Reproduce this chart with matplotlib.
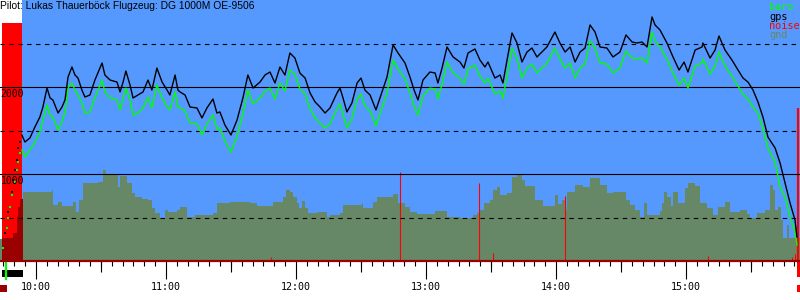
#!/usr/bin/env python3

import numpy as np
import matplotlib.pyplot as plt
import matplotlib.transforms as mtransforms
from matplotlib.patches import Rectangle

# =========================
# STYLE
# =========================
BLUE = "#5599ff"
GND = "#668866"
BARO = "#00ff00"
NOISE = "#ff0000"
DARKRED = "#990000"
MONO = "DejaVu Sans Mono"

plt.rcParams.update({
    "font.family": "Liberation Sans",
    "figure.dpi": 100,
})

# =========================
# DATA (minutes after 10:00, metres)
# =========================
title = "Pilot: Lukas Thauerböck Flugzeug: DG 1000M OE-9506"

t = [-6.5, -5.1, -2.8, -0.5, 1.8, 3.2, 5.1, 6.5, 7.8, 10.2, 12.0, 13.4, 14.8, 16.6,
     18.0, 19.4, 21.2, 22.6, 24.9, 27.2, 30.5, 31.8, 34.2, 37.4, 38.8, 40.2, 41.5,
     43.4, 44.8, 47.1, 49.4, 51.7, 53.5, 55.8, 58.2, 60.5, 61.8, 64.2, 65.5, 66.5,
     68.8, 71.1, 74.3, 76.6, 78.9, 81.7, 83.5, 84.9, 87.2, 90.0, 92.8, 95.5, 97.8,
     100.2, 103.4, 105.7, 108.0, 110.3, 112.6, 114.9, 117.2, 119.5, 121.8, 124.2,
     126.5, 128.8, 131.1, 133.4, 135.7, 138.9, 140.3, 141.7, 143.5, 145.8, 148.2,
     150.0, 151.8, 154.2, 156.9, 159.7, 162.0, 164.8, 167.1, 170.3, 172.6, 174.5,
     176.3, 178.6, 181.8, 184.2, 185.5, 187.4, 189.7, 192.5, 195.7, 197.5, 199.4,
     202.6, 204.9, 207.2, 208.6, 211.8, 214.2, 215.5, 217.4, 219.7, 222.0, 224.3,
     226.6, 228.9, 231.2, 233.5, 235.8, 239.5, 241.8, 244.2, 246.5, 248.8, 251.1,
     253.4, 255.7, 258.0, 260.3, 263.5, 266.3, 269.5, 272.3, 275.1, 277.4, 279.7,
     282.0, 284.3, 285.7, 288.0, 291.2, 294.0, 296.8, 299.1, 300.9, 304.2, 307.4,
     307.8, 311.1, 313.4, 315.2, 318.0, 321.2, 324.0, 326.3, 328.6, 330.9, 333.2,
     335.5, 337.8, 341.1, 343.4, 345.7, 348.0, 350.3, 351.2]

gps = [1448, 1368, 1414, 1540, 1655, 1770, 1989, 1874, 1851, 1701, 1770, 1851, 2115, 2230,
       2138, 2103, 1965, 1885, 1908, 2080, 2276, 2138, 2080, 2057, 1943, 2057, 2184,
       2023, 1874, 1908, 1943, 2080, 1965, 2218, 2057, 1965, 1908, 2138, 1965, 1943,
       1908, 1770, 1759, 1644, 1759, 1862, 1701, 1713, 1563, 1448, 1621, 1874, 2138,
       1988, 2057, 2138, 2172, 2046, 2230, 2138, 2391, 2333, 2161, 2103,
       1931, 1828, 1770, 1701, 1759, 1931, 1988, 1874, 1713, 1816, 2046,
       2103, 1965, 1908, 1736, 1943, 2115, 2483, 2391, 2276, 2115, 1965,
       1851, 2080, 2172, 2161, 2046, 2218, 2460, 2345, 2287, 2218, 2391,
       2437, 2310, 2230, 2287, 2103, 2138, 2046, 2310, 2621, 2506, 2287,
       2402, 2448, 2345, 2402, 2460, 2632, 2506, 2402, 2460, 2287, 2402,
       2448, 2713, 2632, 2460, 2448, 2345, 2402, 2598, 2517, 2506, 2517,
       2460, 2805, 2713, 2655, 2506, 2345, 2195, 2287, 2172, 2425, 2460,
       2506, 2333, 2425, 2586, 2425, 2310, 2195, 2103, 2057, 1965, 1828,
       1655, 1425, 1299, 1126, 897, 667, 471, 276]

baro = [1276, 1195, 1276, 1368, 1483, 1621, 1793, 1678, 1655, 1506, 1598, 1713, 1988, 2046,
        1965, 1908, 1816, 1701, 1713, 1874, 2080, 1943, 1874, 1851, 1736, 1874, 1988,
        1851, 1678, 1701, 1759, 1885, 1759, 2023, 1874, 1770, 1736, 1943, 1770, 1759,
        1725, 1586, 1575, 1448, 1575, 1678, 1517, 1529, 1379, 1253, 1437, 1690, 1965,
        1805, 1874, 1954, 1988, 1862, 2046, 1954, 2195, 2149, 1977, 1920,
        1747, 1644, 1586, 1529, 1575, 1747, 1805, 1690, 1529, 1632, 1862,
        1920, 1782, 1725, 1552, 1759, 1931, 2310, 2207, 2092, 1931, 1782,
        1678, 1897, 1988, 1977, 1862, 2034, 2287, 2161, 2103, 2034, 2207,
        2253, 2126, 2046, 2103, 1920, 1954, 1874, 2126, 2448, 2322, 2103,
        2218, 2264, 2161, 2218, 2276, 2448, 2322, 2218, 2276, 2103, 2218,
        2264, 2529, 2448, 2276, 2264, 2161, 2218, 2414, 2333, 2322, 2333,
        2276, 2632, 2529, 2460, 2322, 2161, 2023, 2103, 1988, 2241, 2276,
        2322, 2149, 2241, 2402, 2241, 2126, 2011, 1920, 1862, 1770, 1700,
        1520, 1300, 1138, 851, 736, 506, 333, 184]

# climb under engine: only a few fixes, drawn as dots
climb_t_baro = [-15.2, -13.4, -12.9, -12.0, -11.1, -9.7, -8.8, -8.3, -7.4]
climb_baro = [149, 379, 494, 621, 759, 908, 1046, 1138, 1241]
climb_t_gps = [-14.3, -12.9, -11.1, -10.6, -9.7, -8.8, -8.3, -7.4]
climb_gps = [322, 563, 793, 931, 1046, 1161, 1299, 1368]

gnd_t = [-16.6, -5.9, 7.2, 8.0, 10.3, 11.9, 16.9, 18.5, 20.0, 21.5, 28.8, 31.1, 32.3,
         38.0, 38.8, 42.1, 44.2, 45.7, 48.8, 51.8, 53.4, 54.9, 57.2, 59.5, 61.1, 64.9,
         66.5, 69.5, 73.4, 81.8, 83.4, 89.5, 98.8, 101.9, 109.5, 114.1, 115.4, 117.2,
         118.8, 120.3, 121.5, 122.9, 124.2, 125.7, 129.5, 134.2, 135.7, 140.3, 141.8,
         150.3, 151.1, 155.7, 157.2, 164.9, 167.2, 170.3, 172.6, 175.7, 184.2, 189.6,
         195.7, 201.8, 203.4, 204.9, 206.8, 209.5, 210.8, 212.6, 214.2, 217.2, 219.5,
         221.9, 224.2, 225.7, 229.5, 230.3, 232.6, 234.1, 238.8, 239.5, 241.1, 242.6,
         244.2, 244.9, 248.8, 252.6, 255.7, 258.8, 260.3, 263.4, 266.4, 271.1, 272.3,
         274.2, 276.5, 278.8, 280.6, 281.8, 286.5, 288.0, 288.8, 289.8, 291.4, 292.9,
         294.1, 296.4, 299.5, 301.1, 304.2, 306.5, 309.6, 312.6, 314.9, 318.0, 320.3,
         324.9, 328.0, 329.5, 332.6, 336.5, 338.8, 340.3, 341.1, 342.6, 343.7, 344.6,
         346.5, 347.5, 350.3, 351.4, 352.6]

gnd = [253, 793, 816, 644, 678, 632, 678, 563, 701, 897, 908, 1046, 989,
       851, 977, 897, 782, 736, 713, 701, 609, 552, 494, 586, 563, 586,
       621, 506, 529, 552, 667, 678, 667, 632, 678, 736, 816, 793,
       736, 667, 609, 690, 609, 552, 563, 506, 529, 552, 644,
       667, 609, 678, 736, 770, 667, 621, 563, 540, 575, 506,
       494, 529, 552, 586, 667, 701, 816, 851, 759, 782, 966,
       989, 931, 862, 862, 701, 701, 632, 632, 759, 655, 701,
       586, 793, 874, 851, 954, 954, 874, 782, 793, 793, 701,
       644, 586, 506, 667, 529, 529, 575, 667, 793, 736, 632,
       793, 667, 839, 897, 862, 667, 609, 529, 621, 678, 563,
       586, 540, 494, 552, 586, 874, 816, 586, 621, 471, 264,
       414, 264, 391, 264, 264]

# engine run (noise) at the start
engine_t = [-15.7, -6.5]
engine_noise = 2736
engine_gnd_t = [-15.7, -10.6, -8.8, -8.3, -7.4, -6.0]
engine_gnd = [264, 322, 506, 621, 713, 713]

# noise spikes during the flight
noise_t = [108.5, 168.0, 204.5, 210.9, 244.2, 310.2, 348.9, 350.3, 351.7]
noise = [46, 1023, 897, 92, 747, 57, 46, 80, 1759]

hours = ["10:00", "11:00", "12:00", "13:00", "14:00", "15:00"]
hour_min = [0, 60, 120, 180, 240, 300]

legend = [("baro", BARO), ("gps", "black"), ("noise", NOISE), ("gnd", GND)]

# =========================
# PLOT
# =========================
fig = plt.figure(figsize=(8, 3), facecolor="white")
ax = fig.add_axes([0, 39 / 300, 1, 261 / 300])
ax.set_facecolor("white")
ax.set_xlim(-16.6, 352.6)
ax.set_ylim(0, 3000)
for s in ax.spines.values():
    s.set_visible(False)

# background + engine noise
ax.axvspan(engine_t[1], 352.6, color=BLUE, lw=0, zorder=0)
ax.fill_between(engine_t, 0, engine_noise, color=NOISE, lw=0, zorder=1)

# ground
ax.fill_between(gnd_t, 0, gnd, step="post", color=GND, lw=0, zorder=2)
ax.fill_between(engine_gnd_t, 0, engine_gnd, step="post", color=DARKRED, lw=0, zorder=2.5)

# noise spikes
ax.vlines(noise_t[:-1], 0, noise[:-1], color=NOISE, lw=0.8, zorder=3)
ax.vlines(noise_t[-1:], 0, noise[-1:], color=NOISE, lw=1.6, zorder=3)

# altitude grid
for v in [1000, 2000]:
    ax.axhline(v, color="black", lw=0.8, zorder=4)
for v in [500, 1500, 2500]:
    ax.axhline(v, color="black", lw=0.8, ls=(0, (4, 4)), zorder=4)

for v in [1000, 2000]:
    ax.annotate(str(v), xy=(0, v), xycoords=("axes fraction", "data"),
                xytext=(0.5, -7.4), textcoords="offset points",
                va="baseline", ha="left", family=MONO, fontsize=7, zorder=6)

# traces
ax.plot(t, baro, color=BARO, lw=1.0, zorder=5)
ax.plot(t, gps, color="black", lw=1.0, zorder=5.5)
ax.scatter(climb_t_baro, climb_baro, s=4, marker="s", color=BARO, lw=0, zorder=5)
ax.scatter(climb_t_gps, climb_gps, s=4, marker="s", color="black", lw=0, zorder=5)

# baseline
ax.axhline(0, color=DARKRED, lw=1.6, zorder=6, clip_on=False)

# time axis
ax.set_xticks(hour_min)
ax.set_xticklabels(hours, family=MONO, fontsize=7.2)
ax.set_xticks(np.arange(-15, 351, 5), minor=True)
ax.tick_params(axis="x", which="major", length=13, width=0.8, color="black", pad=2)
ax.tick_params(axis="x", which="minor", length=3.6, width=0.8, color="black")
ax.set_yticks([])

trans = mtransforms.blended_transform_factory(ax.transData, ax.transAxes)
ax.vlines(np.arange(-30, 351, 60), -11 / 261, 0, transform=trans, color="black",
          lw=0.8, clip_on=False)

# engine markers below the axis
ax.add_patch(Rectangle((engine_t[0], -16 / 261), engine_t[1] - engine_t[0] + 0.5, 7 / 261,
                       transform=trans, color="black", lw=0, clip_on=False))
ax.vlines([-13.9], -19 / 261, 0, transform=trans, color=BARO, lw=1.6, clip_on=False)
ax.add_patch(Rectangle((-16.6, -31 / 261), 3.2, 7 / 261,
                       transform=trans, color=DARKRED, lw=0, clip_on=False))
ax.add_patch(Rectangle((351.2, -16 / 261), 1.4, 15 / 261,
                       transform=trans, color=NOISE, lw=0, clip_on=False))
ax.add_patch(Rectangle((351.2, -31 / 261), 1.4, 7 / 261,
                       transform=trans, color=NOISE, lw=0, clip_on=False))

# title and legend
fig.text(0, 1 - 1 / 300, title, va="top", ha="left", fontsize=7.4)
for i, (name, col) in enumerate(legend):
    fig.text(769 / 800, 1 - (10 + 9.5 * i) / 300, name, color=col,
             va="baseline", ha="left", family=MONO, fontsize=7.4)

fig.savefig("out.png", dpi=100, facecolor="white")
